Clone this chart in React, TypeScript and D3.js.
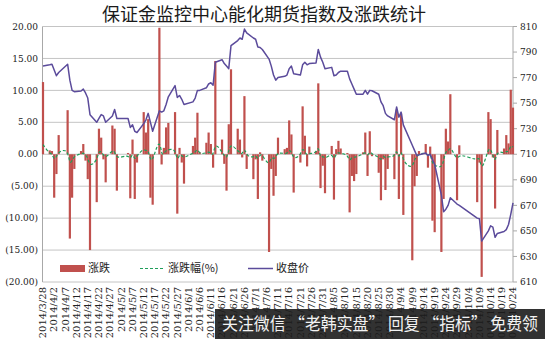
import React from "react";
import * as d3 from "d3";

const dates = [
  "2014-03-28","2014-03-31","2014-04-01","2014-04-02","2014-04-03","2014-04-04","2014-04-08","2014-04-09","2014-04-10","2014-04-11",
  "2014-04-14","2014-04-15","2014-04-16","2014-04-17","2014-04-18","2014-04-21","2014-04-22","2014-04-23","2014-04-24","2014-04-25",
  "2014-04-28","2014-04-29","2014-04-30","2014-05-05","2014-05-06","2014-05-07","2014-05-08","2014-05-09","2014-05-12","2014-05-13",
  "2014-05-14","2014-05-15","2014-05-16","2014-05-19","2014-05-20","2014-05-21","2014-05-22","2014-05-23","2014-05-26","2014-05-27",
  "2014-05-28","2014-05-29","2014-05-30","2014-06-03","2014-06-04","2014-06-05","2014-06-06","2014-06-09","2014-06-10","2014-06-11",
  "2014-06-12","2014-06-13","2014-06-16","2014-06-17","2014-06-18","2014-06-19","2014-06-20","2014-06-23","2014-06-24","2014-06-25",
  "2014-06-26","2014-06-27","2014-06-30","2014-07-01","2014-07-02","2014-07-03","2014-07-04","2014-07-07","2014-07-08","2014-07-09",
  "2014-07-10","2014-07-11","2014-07-14","2014-07-15","2014-07-16","2014-07-17","2014-07-18","2014-07-21","2014-07-22","2014-07-23",
  "2014-07-24","2014-07-25","2014-07-28","2014-07-29","2014-07-30","2014-07-31","2014-08-01","2014-08-04","2014-08-05","2014-08-06",
  "2014-08-07","2014-08-08","2014-08-11","2014-08-12","2014-08-13","2014-08-14","2014-08-15","2014-08-18","2014-08-19","2014-08-20",
  "2014-08-21","2014-08-22","2014-08-25","2014-08-26","2014-08-27","2014-08-28","2014-08-29","2014-09-01","2014-09-02","2014-09-03",
  "2014-09-04","2014-09-05","2014-09-09","2014-09-10","2014-09-11","2014-09-12","2014-09-15","2014-09-16","2014-09-17","2014-09-18",
  "2014-09-19","2014-09-22","2014-09-23","2014-09-24","2014-09-25","2014-09-26","2014-09-29","2014-09-30","2014-10-08","2014-10-09",
  "2014-10-10","2014-10-13","2014-10-14","2014-10-15","2014-10-16","2014-10-17","2014-10-20","2014-10-21","2014-10-22","2014-10-23",
  "2014-10-24"
];

// 收盘价 (right axis)
const closes = [
  779,780,780.5,776,771.5,774,780.5,768,760,759,
  759.5,761,758,754,741,735,738,741,740,735,
  740,745,738,738,731,733,728,727,734,737,
  742,735,728,744,743,744,749,755,763.7,754.5,
  756,753,749,751,754,760,760,762,765,766,
  764,782,784,781,779,777,795,799,801,800,
  808,805,801,800,794,793.6,792,784.5,779,772,
  768,770,771,772,777,779,773,772,780,782,
  780,781,781.5,792,786,782,777,778,771.5,772,
  774,775,775,769,765,761,757,757,760,757,
  760,759.7,757,751,748,742,740,737,747,739,
  743,733,717,713,709,709.5,711,709,710,706,
  702,678,665,667,670,676,671,670,660,659.5,
  642,650,654,653,645,648,649.5,651,655,663,
  672
];

// 涨跌 (left axis, bars)
const changes = [
  11.3,0.6,0.5,-6.8,-3.1,3.0,6.9,-13.2,-6.8,-2.3,
  0.5,1.6,-1.0,-3.9,-15.0,-7.5,4.0,2.6,-0.8,-4.4,
  4.5,4.0,-5.7,0.2,-6.9,2.3,-7.0,-1.3,6.6,3.4,
  5.5,-6.8,-7.9,19.8,-1.6,1.0,4.2,4.9,6.6,-9.3,
  1.0,-1.3,-4.6,1.3,2.6,6.5,0.3,1.8,3.4,1.6,
  -2.1,14.6,2.3,-1.5,-5.7,4.7,13.3,4.0,2.3,-0.5,
  9.1,-2.3,-3.9,-0.8,-7.0,0.3,-1.0,-15.3,-2.3,-6.5,
  -3.4,2.6,0.8,1.0,5.3,3.1,-6.0,-1.3,7.5,2.9,
  -1.9,1.2,0.5,11.1,-5.3,-1.8,-6.1,1.3,-7.1,0.8,
  2.1,0.9,0.2,-9.1,-3.4,-4.2,-3.1,0.3,3.4,-3.4,
  3.6,-0.3,-2.9,-7.2,-0.8,-5.6,-2.3,-3.9,7.0,-7.0,
  6.4,-9.5,-16.6,-5.0,-3.4,0.5,1.6,-2.1,1.2,-10.4,
  -12.2,-15.3,-7.0,4.0,2.0,9.4,-7.2,1.4,-7.5,-1.3,
  -19.2,6.6,5.5,-0.5,-8.5,3.8,0.9,3.0,1.7,10.1,
  7.3
];

// 涨跌幅(%) (left axis, dashed line)
const pcts = [
  1.5,0.1,0.1,-0.9,-0.4,0.4,0.9,-1.7,-0.9,-0.3,
  0.1,0.2,-0.1,-0.5,-2.0,-1.0,0.5,0.4,-0.1,-0.6,
  0.6,0.5,-0.8,0.0,-0.9,0.3,-1.0,-0.2,0.9,0.5,
  0.7,-0.9,-1.1,2.7,-0.2,0.1,0.6,0.7,0.9,-1.2,
  0.1,-0.2,-0.6,0.2,0.3,0.9,0.0,0.2,0.4,0.2,
  -0.3,1.9,0.3,-0.2,-0.7,0.6,1.7,0.5,0.3,-0.1,
  1.1,-0.3,-0.5,-0.1,-0.9,0.0,-0.1,-1.9,-0.3,-0.8,
  -0.4,0.3,0.1,0.1,0.7,0.4,-0.8,-0.2,1.0,0.4,
  -0.2,0.2,0.1,1.4,-0.7,-0.2,-0.8,0.2,-0.9,0.1,
  0.3,0.1,0.0,-1.2,-0.4,-0.5,-0.4,0.0,0.4,-0.4,
  0.5,0.0,-0.4,-1.0,-0.1,-0.7,-0.3,-0.5,0.9,-0.9,
  0.9,-1.3,-2.3,-0.7,-0.5,0.1,0.2,-0.3,0.2,-1.5,
  -1.7,-2.2,-1.0,0.6,0.3,1.4,-1.1,0.2,-1.1,-0.2,
  -2.9,1.0,0.8,-0.1,-1.3,0.6,0.1,0.5,0.3,1.5,
  1.1
];

const leftTicks = [20, 15, 10, 5, 0, -5, -10, -15, -20];
const rightTicks = [810, 790, 770, 750, 730, 710, 690, 670, 650, 630, 610];

const title = "保证金监控中心能化期货指数及涨跌统计";
const legendLabels = ["涨跌", "涨跌幅(%)", "收盘价"];
const bannerText = "关注微信 “老韩实盘” 回复 “指标” 免费领";

const W = 545, H = 339;
const L = 42.5, R = 513, T = 26.5, B = 282;

const parse = d3.timeParse("%Y-%m-%d");
const fmtTick = d3.timeFormat("%Y/%-m/%-d");

export default function App() {
  const ds = dates.map((s) => parse(s) as Date);
  const start = ds[0];
  const end = ds[ds.length - 1];
  const x = d3.scaleTime().domain([start, end]).range([L + 0.5, R]);
  const yL = d3.scaleLinear().domain([-20, 20]).range([B, T]);
  const yR = d3.scaleLinear().domain([610, 810]).range([B, T]);
  const xTicks = d3.timeDay.range(start, d3.timeDay.offset(end, 1), 5);

  const closeLine = d3
    .line<number>()
    .x((_, i) => x(ds[i]))
    .y((v) => yR(v))
    .curve(d3.curveLinear)(closes) as string;

  const pctLine = d3
    .line<number>()
    .x((_, i) => x(ds[i]))
    .y((v) => yL(v))
    .curve(d3.curveBasis)(pcts) as string;

  const fmtLeft = (v: number) =>
    v < 0 ? `(${Math.abs(v).toFixed(2)})` : v.toFixed(2);

  const red = "#c0504d";
  const green = "#1f9e5a";
  const purple = "#5b4b9b";
  const grid = "#c4c4c4";
  const axisFont = "'DejaVu Serif', serif";

  return (
    <svg
      width={W}
      height={H}
      style={{ position: "absolute", left: 0, top: 0, background: "#fff" }}
    >
      <rect x={0} y={0} width={W} height={H} fill="#fff" />
      <text
        x={264}
        y={20.5}
        textAnchor="middle"
        fontSize={18}
        fontFamily="'Noto Sans CJK SC', sans-serif"
        fill="#1a1a1a"
      >
        {title}
      </text>

      {/* gridlines */}
      {leftTicks.map((t) => (
        <line key={"g" + t} x1={L} x2={R} y1={yL(t)} y2={yL(t)} stroke={grid} strokeWidth={1} />
      ))}
      <line x1={L} x2={L} y1={T} y2={B} stroke="#a8a8a8" strokeWidth={1} />
      <line x1={R} x2={R} y1={T} y2={B} stroke="#a8a8a8" strokeWidth={1} />

      {/* left axis labels */}
      {leftTicks.map((t) => (
        <text
          key={"l" + t}
          x={38}
          y={yL(t)}
          dy="0.35em"
          textAnchor="end"
          fontSize={9}
          fontFamily={axisFont}
          fill="#222"
        >
          {fmtLeft(t)}
        </text>
      ))}

      {/* right axis */}
      {rightTicks.map((t) => (
        <g key={"r" + t}>
          <line x1={R} x2={R + 4} y1={yR(t)} y2={yR(t)} stroke="#a8a8a8" />
          <text
            x={520}
            y={yR(t)}
            dy="0.35em"
            textAnchor="start"
            fontSize={9}
            fontFamily={axisFont}
            fill="#222"
          >
            {t}
          </text>
        </g>
      ))}

      {/* bars */}
      {changes.map((v, i) => (
        <rect
          key={"b" + i}
          x={x(ds[i]) - 1.1}
          y={yL(Math.max(0, v))}
          width={2.2}
          height={Math.abs(yL(v) - yL(0))}
          fill={red}
        />
      ))}

      {/* pct dashed line */}
      <path d={pctLine} fill="none" stroke={green} strokeWidth={1.2} strokeDasharray="3,2" />

      {/* close line */}
      <path d={closeLine} fill="none" stroke={purple} strokeWidth={1.5} strokeLinejoin="round" />

      {/* x labels */}
      {xTicks.map((d, i) => {
        const xx = x(d) + 3.3;
        return (
          <text
            key={"x" + i}
            transform={`translate(${xx},287) rotate(-90)`}
            textAnchor="end"
            fontSize={10}
            fontFamily={axisFont}
            fill="#222"
          >
            {fmtTick(d)}
          </text>
        );
      })}

      {/* legend */}
      <rect x={60} y={265} width={25} height={7} fill={red} />
      <text x={88} y={268.5} dy="0.35em" fontSize={11} fontFamily="'Noto Sans CJK SC', sans-serif" fill="#222">
        {legendLabels[0]}
      </text>
      <line x1={140} x2={165} y1={268.5} y2={268.5} stroke={green} strokeWidth={1.2} strokeDasharray="3,2" />
      <text x={168} y={268.5} dy="0.35em" fontSize={11} fontFamily="'Noto Sans CJK SC', sans-serif" fill="#222">
        {legendLabels[1]}
      </text>
      <line x1={248} x2={273} y1={268.5} y2={268.5} stroke={purple} strokeWidth={1.5} />
      <text x={276} y={268.5} dy="0.35em" fontSize={11} fontFamily="'Noto Sans CJK SC', sans-serif" fill="#222">
        {legendLabels[2]}
      </text>

      {/* watermark banner */}
      <rect x={215} y={309} width={330} height={30} fill="#1c1c1c" opacity={0.9} />
      <text
        x={222}
        y={330}
        fontSize={17}
        fontFamily="'Noto Sans CJK SC', sans-serif"
        fill="#f2f2f2"
        textLength={316}
        lengthAdjust="spacingAndGlyphs"
      >
        {bannerText}
      </text>
    </svg>
  );
}
